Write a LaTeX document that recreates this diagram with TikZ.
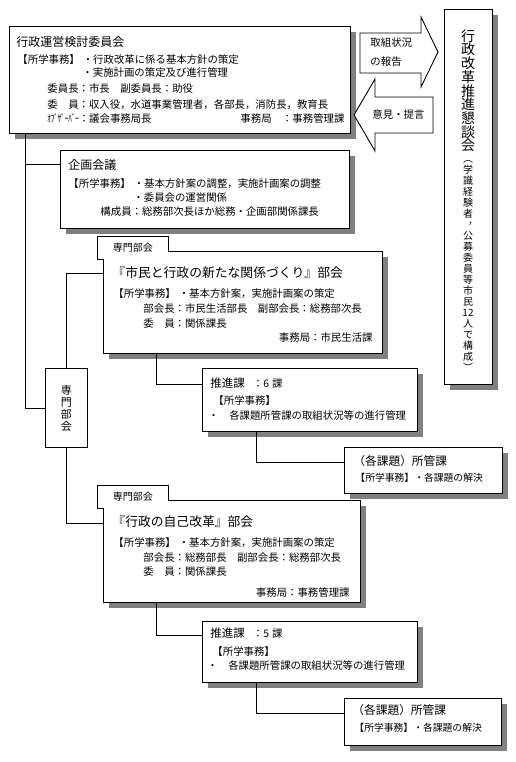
\documentclass[tikz,border=0pt]{standalone}
\usepackage{fontspec}
\usepackage{graphicx}
\setmainfont{Noto Sans CJK JP}
\usetikzlibrary{shadows}
\newcommand{\jfs}[1]{\fontsize{#1}{#1}\selectfont}
\newcommand{\vcomma}{\makebox[1em][l]{\hspace{0.5em}\raisebox{0.4em}[0.6em][0pt]{，}}}

\begin{document}
\begin{tikzpicture}[x=1pt, y=-1pt, line width=0.9pt,
		box/.style={draw, fill=white, anchor=north west, inner sep=0pt,
			drop shadow={shadow xshift=6pt, shadow yshift=-6pt, fill=black!50, opacity=1}},
		plainbox/.style={draw, fill=white, anchor=north west, inner sep=0pt},
		tabbox/.style={fill=white, anchor=north west, inner sep=0pt, minimum width=71pt, minimum height=23pt, font=\jfs{10}},
		txt/.style={anchor=west, inner sep=0pt, font=\jfs{10.4}},
		ttl/.style={anchor=west, inner sep=0pt, font=\jfs{12}},
		bigttl/.style={anchor=west, inner sep=0pt, font=\jfs{12.8}}]
	\useasboundingbox[fill=white] (0,0) rectangle (516,762);

	\node[box, minimum width=341pt, minimum height=107pt] (iinkai) at (9,26) {};
	\node[ttl] (iinkai-t) at (16,42) {行政運営検討委員会};
	\node[txt] (iinkai-1) at (17,60) {【所学事務】\hspace{3pt}・行政改革に係る基本方針の策定};
	\node[txt] (iinkai-2) at (82,73) {・実施計画の策定及び進行管理};
	\node[txt] (iinkai-3) at (47,89) {委員長：市長　副委員長：助役};
	\node[txt] (iinkai-4) at (47,105) {委　員：収入役，水道事業管理者，各部長，消防長，教育長};
	\node[txt] (iinkai-5) at (47,119) {\scalebox{0.67}[1]{ｵﾌﾞｻﾞｰﾊﾞｰ}：議会事務局長};
	\node[txt] (iinkai-6) at (240,119) {事務局　：事務管理課};

	\node[box, minimum width=289pt, minimum height=78pt] (kikaku) at (60,150) {};
	\node[ttl] (kikaku-t) at (68,165) {企画会議};
	\node[txt] (kikaku-1) at (68,184) {【所学事務】\hspace{3pt}・基本方針案の調整，実施計画案の調整};
	\node[txt] (kikaku-2) at (133,198) {・委員会の運営関係};
	\node[txt] (kikaku-3) at (100,212) {構成員：総務部次長ほか総務・企画部関係課長};

	\node[box, minimum width=279pt, minimum height=102pt] (bukai1) at (103,251) {};
	\node[tabbox] (tab1) at (97,236) {専門部会};
	\draw (tab1.south -| bukai1.west) -- (tab1.south west) -- (tab1.north west) -- (tab1.north east) -- (tab1.east |- bukai1.north);
	\node[bigttl] (bukai1-t) at (112,273) {『市民と行政の新たな関係づくり』部会};
	\node[txt] (bukai1-1) at (113,294) {【所学事務】\hspace{3pt}・基本方針案，実施計画案の策定};
	\node[txt] (bukai1-2) at (143,309) {部会長：市民生活部長　副部会長：総務部次長};
	\node[txt] (bukai1-3) at (143,324) {委　員：関係課長};
	\node[txt, anchor=east] (bukai1-4) at (373,338) {事務局：市民生活課};

	\node[plainbox, minimum width=42pt, minimum height=79pt, align=center,
		font={\fontsize{11}{12}\selectfont\lineskiplimit=-20pt}] (senmon) at (45,368) {専\\門\\部\\会};

	\node[box, minimum width=215pt, minimum height=63pt] (suishin1) at (202,368) {};
	\node[txt] (suishin1-t) at (210,383) {{\jfs{11.5}推進課}\hspace{8pt}：6\hspace{3pt}課};
	\node[txt] (suishin1-1) at (213,401) {【所学事務】};
	\node[txt] (suishin1-2) at (208,416) {・　各課題所管課の取組状況等の進行管理};

	\node[box, minimum width=158pt, minimum height=46pt] (shokan1) at (344,447) {};
	\node[txt, font=\jfs{11.7}] (shokan1-t) at (353,461) {（各課題）所管課};
	\node[txt, font=\jfs{9.8}] (shokan1-1) at (355,478) {【所学事務】・各課題の解決};

	\node[box, minimum width=257pt, minimum height=102pt] (bukai2) at (103,500) {};
	\node[tabbox] (tab2) at (97,485) {専門部会};
	\draw (tab2.south -| bukai2.west) -- (tab2.south west) -- (tab2.north west) -- (tab2.north east) -- (tab2.east |- bukai2.north);
	\node[bigttl] (bukai2-t) at (112,522) {『行政の自己改革』部会};
	\node[txt] (bukai2-1) at (113,543) {【所学事務】\hspace{3pt}・基本方針案，実施計画案の策定};
	\node[txt] (bukai2-2) at (143,558) {部会長：総務部長　副部会長：総務部次長};
	\node[txt] (bukai2-3) at (143,572) {委　員：関係課長};
	\node[txt, anchor=east] (bukai2-4) at (350,593) {事務局：事務管理課};

	\node[box, minimum width=215pt, minimum height=61pt] (suishin2) at (202,621) {};
	\node[txt] (suishin2-t) at (210,633) {{\jfs{11.5}推進課}\hspace{8pt}：5\hspace{3pt}課};
	\node[txt] (suishin2-1) at (212,652) {【所学事務】};
	\node[txt] (suishin2-2) at (207,666) {・　各課題所管課の取組状況等の進行管理};

	\node[box, minimum width=157pt, minimum height=47pt] (shokan2) at (344,698) {};
	\node[txt, font=\jfs{11.7}] (shokan2-t) at (352,710) {（各課題）所管課};
	\node[txt, font=\jfs{9.8}] (shokan2-1) at (354,728) {【所学事務】・各課題の解決};

	\node[box, minimum width=48pt, minimum height=375pt] (kondankai) at (444,9) {};
	\node[anchor=north, inner sep=0pt, align=center,
		font={\fontsize{14}{13.7}\selectfont\lineskiplimit=-20pt}] (kondankai-t) at (468,29)
		{行\\政\\改\\革\\推\\進\\懇\\談\\会};
	\node[anchor=north, inner sep=0pt, align=center,
		font={\fontsize{10}{11}\selectfont\lineskiplimit=-20pt}] (kondankai-1) at (468,160)
		{︵\\学\\識\\経\\験\\者\\\vcomma\\公\\募\\委\\員\\等\\市\\民\\12\\人\\で\\構\\成\\︶};

	\draw[fill=white] (360,33) -- (421,33) -- (421,17) -- (438,52) -- (421,87) -- (421,73) -- (360,73) -- cycle;
	\node[txt, align=left, font={\fontsize{10.4}{19}\selectfont}] (houkoku) at (370,52) {取組状況\\の報告};
	\draw[fill=white] (354,115) -- (375,79) -- (375,97) -- (433,97) -- (433,133) -- (375,133) -- (375,151) -- cycle;
	\node[txt] (teigen) at (372,115) {意見・提言};

	\draw ([xshift=16pt]iinkai.south west) |- ([yshift=-14pt]kikaku.north west);
	\draw ([xshift=16pt]iinkai.south west) |- (senmon.west);
	\draw (senmon.north) |- ([yshift=-22pt]bukai1.north west);
	\draw (senmon.south) |- ([yshift=-23pt]bukai2.north west);
	\draw ([xshift=53pt]bukai1.south west) |- ([yshift=-16pt]suishin1.north west);
	\draw ([xshift=54pt]suishin1.south west) |- ([yshift=-15pt]shokan1.north west);
	\draw ([xshift=53pt]bukai2.south west) |- ([yshift=-14pt]suishin2.north west);
	\draw ([xshift=54pt]suishin2.south west) |- ([yshift=-15pt]shokan2.north west);
\end{tikzpicture}
\end{document}
